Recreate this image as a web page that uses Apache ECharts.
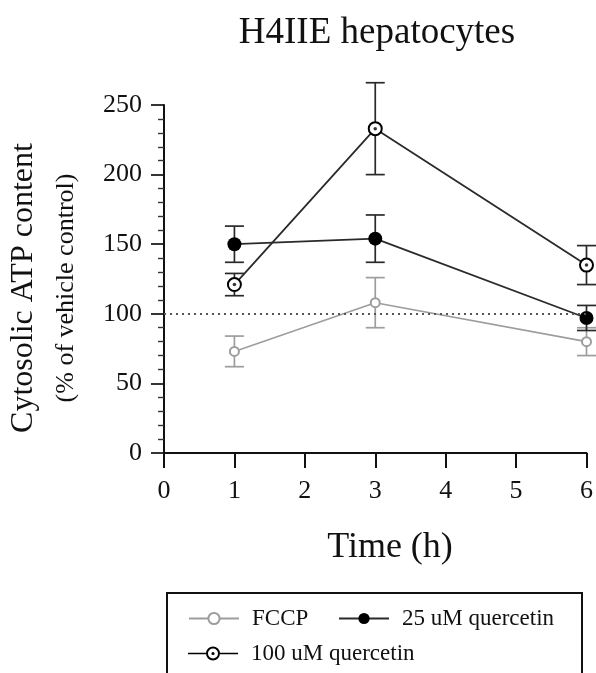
<!DOCTYPE html>
<html>
<head>
<meta charset="utf-8">
<script src="https://cdn.jsdelivr.net/npm/echarts@6/dist/echarts.min.js"></script>
<style>
  html, body { margin: 0; padding: 0; background: #fff; }
  #chart { width: 596px; height: 673px; }
</style>
</head>
<body>
<div id="chart"></div>
<script>
const times = [1, 3, 6];
const fccpMean = [73, 108, 80];
const fccpErr = [11, 18, 10];
const q25Mean = [150, 154, 97];
const q25Err = [13, 17, 9];
const q100Mean = [121, 233, 135];
const q100Err = [8, 33, 14];
const xTicks = [0, 1, 2, 3, 4, 5, 6];
const yTicks = [0, 50, 100, 150, 200, 250];
const controlLevel = 100;

const serif = "'Liberation Serif', 'Times New Roman', serif";
const ink = '#111';
const grey = '#9d9d9d';

const points = mean => times.map((t, i) => [t, mean[i]]);
const bars = (mean, err) => times.map((t, i) => [t, mean[i] - err[i], mean[i] + err[i]]);

const errorBars = (data, color) => ({
  type: 'custom',
  data: data,
  z: 1,
  encode: { x: 0, y: [1, 2] },
  renderItem: (params, api) => {
    const x = api.value(0);
    const top = api.coord([x, api.value(2)]);
    const bot = api.coord([x, api.value(1)]);
    const w = 9.5;
    const style = { stroke: color, lineWidth: 1.7 };
    return {
      type: 'group',
      children: [
        { type: 'line', shape: { x1: top[0], y1: top[1], x2: bot[0], y2: bot[1] }, style },
        { type: 'line', shape: { x1: top[0] - w, y1: top[1], x2: top[0] + w, y2: top[1] }, style },
        { type: 'line', shape: { x1: bot[0] - w, y1: bot[1], x2: bot[0] + w, y2: bot[1] }, style }
      ]
    };
  }
});

// legend icon for the ring-with-dot marker, line included
const ringIcon = 'path://M0,6.2 L18,6.2 L18,7.8 L0,7.8 Z M32,6.2 L50,6.2 L50,7.8 L32,7.8 Z ' +
  'M25,0 A7,7 0 1,1 25,14 A7,7 0 1,1 25,0 Z M25,2 A5,5 0 1,0 25,12 A5,5 0 1,0 25,2 Z ' +
  'M25,5.4 A1.6,1.6 0 1,1 25,8.6 A1.6,1.6 0 1,1 25,5.4 Z';

const legendBase = {
  itemWidth: 50,
  itemHeight: 14,
  padding: 0,
  selectedMode: false,
  textStyle: { fontFamily: serif, fontSize: 23, color: ink, padding: [0, 0, 0, 8] }
};

const chart = echarts.init(document.getElementById('chart'));
chart.setOption({
  animation: false,
  backgroundColor: '#fff',
  grid: { left: 164, right: 7, top: 105, bottom: 220 },
  xAxis: {
    type: 'value',
    min: xTicks[0],
    max: xTicks[xTicks.length - 1],
    interval: 1,
    axisLine: { lineStyle: { color: ink, width: 2 } },
    axisTick: { length: 15, lineStyle: { color: ink, width: 2 } },
    axisLabel: { fontFamily: serif, fontSize: 26, color: ink, margin: 25 },
    splitLine: { show: false }
  },
  yAxis: {
    type: 'value',
    min: yTicks[0],
    max: yTicks[yTicks.length - 1],
    interval: 50,
    axisLine: { show: true, lineStyle: { color: ink, width: 2 } },
    axisTick: { show: true, length: 13, lineStyle: { color: ink, width: 1.7 } },
    minorTick: { show: true, splitNumber: 5, length: 6, lineStyle: { color: '#333', width: 1.4 } },
    axisLabel: { fontFamily: serif, fontSize: 26, color: ink, margin: 22 },
    splitLine: { show: false }
  },
  legend: [
    Object.assign({}, legendBase, { left: 188, top: 607, data: ['FCCP'] }),
    Object.assign({}, legendBase, { left: 338, top: 607, data: ['25 uM quercetin'] }),
    Object.assign({}, legendBase, { left: 188, top: 642, data: [{ name: '100 uM quercetin', icon: ringIcon }] })
  ],
  graphic: [
    { type: 'text', x: 377, y: 33,
      style: { text: 'H4IIE hepatocytes', font: '37px ' + serif, fill: ink, align: 'center', verticalAlign: 'middle' } },
    { type: 'text', x: 390, y: 548,
      style: { text: 'Time (h)', font: '36px ' + serif, fill: ink, align: 'center', verticalAlign: 'middle' } },
    { type: 'text', x: 24, y: 288, rotation: Math.PI / 2,
      style: { text: 'Cytosolic ATP content', font: '32px ' + serif, fill: ink, align: 'center', verticalAlign: 'middle' } },
    { type: 'text', x: 66, y: 288, rotation: Math.PI / 2,
      style: { text: '(% of vehicle control)', font: '26px ' + serif, fill: ink, align: 'center', verticalAlign: 'middle' } },
    { type: 'rect', shape: { x: 167, y: 593, width: 415, height: 130 },
      style: { fill: 'none', stroke: ink, lineWidth: 2 } }
  ],
  series: [
    errorBars(bars(fccpMean, fccpErr), grey),
    errorBars(bars(q25Mean, q25Err), '#2a2a2a'),
    errorBars(bars(q100Mean, q100Err), '#2a2a2a'),
    {
      name: 'FCCP',
      type: 'line',
      z: 3,
      data: points(fccpMean),
      symbol: 'emptyCircle',
      symbolSize: 9,
      itemStyle: { color: grey, borderWidth: 1.7 },
      lineStyle: { color: grey, width: 1.6 }
    },
    {
      name: '25 uM quercetin',
      type: 'line',
      z: 3,
      data: points(q25Mean),
      symbol: 'circle',
      symbolSize: 14,
      itemStyle: { color: '#000' },
      lineStyle: { color: '#2a2a2a', width: 1.8 },
      markLine: {
        silent: true,
        symbol: 'none',
        label: { show: false },
        lineStyle: { color: '#555', width: 2, type: [2, 4] },
        data: [{ yAxis: controlLevel }]
      }
    },
    {
      name: '100 uM quercetin',
      type: 'line',
      z: 3,
      data: points(q100Mean),
      symbol: 'emptyCircle',
      symbolSize: 13,
      itemStyle: { color: '#000', borderWidth: 2.4 },
      lineStyle: { color: '#2a2a2a', width: 1.8 }
    },
    {
      name: 'q100 dot',
      type: 'scatter',
      z: 5,
      silent: true,
      data: points(q100Mean),
      symbol: 'circle',
      symbolSize: 3.5,
      itemStyle: { color: '#000' }
    }
  ]
});
</script>
</body>
</html>
